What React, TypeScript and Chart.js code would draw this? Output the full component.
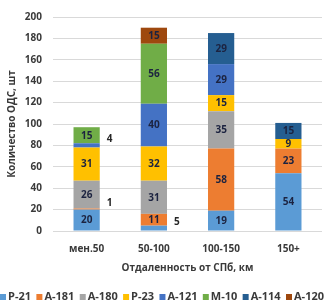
import React, { useEffect, useRef } from 'react';
import { Chart, registerables } from 'chart.js';
Chart.register(...registerables);

const categories = ['мен.50', '50-100', '100-150', '150+'];
const seriesNames = ['Р-21', 'А-181', 'А-180', 'Р-23', 'А-121', 'М-10', 'А-114', 'А-120'];
const r21 = [20, 5, 19, 54];
const a181 = [1, 11, 58, 23];
const a180 = [26, 31, 35, 0];
const r23 = [31, 32, 15, 9];
const a121 = [4, 40, 29, 0];
const m10 = [15, 56, 0, 0];
const a114 = [0, 0, 29, 15];
const a120 = [0, 15, 0, 0];
const seriesValues = [r21, a181, a180, r23, a121, m10, a114, a120];
const seriesColors = ['#5B9BD5', '#ED7D31', '#A5A5A5', '#FFC000', '#4472C4', '#70AD47', '#255E91', '#9E480E'];
const yMin = 0;
const yMax = 200;
const yStep = 20;
const yTitle = 'Количество ОДС, шт';
const xTitle = 'Отдаленность от СПб, км';

const FONT = '"Open Sans", sans-serif';
const TEXT = '#3a3a3a';

const labelPlugin = {
  id: 'segLabels',
  afterDatasetsDraw(chart: any) {
    const ctx = chart.ctx;
    ctx.save();
    ctx.font = `bold 10px ${FONT}`;
    chart.data.datasets.forEach((ds: any, di: number) => {
      const meta = chart.getDatasetMeta(di);
      meta.data.forEach((bar: any, i: number) => {
        const v = ds.data[i];
        if (!v) return;
        const p = bar.getProps(['x', 'y', 'base', 'width'], true);
        const cy = (p.y + p.base) / 2;
        if (v >= 6) {
          ctx.fillStyle = '#1c2340';
          ctx.textAlign = 'center';
          ctx.textBaseline = 'middle';
          ctx.fillText(String(v), p.x, cy + 0.5);
        } else {
          ctx.fillStyle = '#262626';
          ctx.textAlign = 'left';
          ctx.textBaseline = 'middle';
          ctx.fillText(String(v), p.x + p.width / 2 + 7, cy - 6);
        }
      });
    });
    ctx.restore();
  },
};

const legendPlugin = {
  id: 'lineLegend',
  afterDraw(chart: any) {
    const ctx = chart.ctx;
    ctx.save();
    ctx.font = `bold 11px ${FONT}`;
    ctx.textBaseline = 'middle';
    ctx.textAlign = 'left';
    const dss = chart.data.datasets;
    const widths = dss.map((d: any) => ctx.measureText(d.label).width);
    let used = 0;
    for (let i = 0; i < dss.length - 1; i++) used += 8 + widths[i];
    const gap = (286 - used) / (dss.length - 1);
    let x = 0;
    const y = 297;
    dss.forEach((ds: any, i: number) => {
      ctx.fillStyle = ds.backgroundColor;
      ctx.fillRect(x, y - 3, 6, 6);
      ctx.fillStyle = TEXT;
      ctx.fillText(ds.label, x + 8, y);
      x += 8 + widths[i] + gap;
    });
    ctx.restore();
  },
};

export default function App() {
  const ref = useRef<HTMLCanvasElement>(null);
  useEffect(() => {
    const tickFont = { family: FONT, size: 10, weight: 'bold' as const };
    const chart = new Chart(ref.current!, {
      type: 'bar',
      data: {
        labels: categories,
        datasets: seriesNames.map((name, i) => ({
          label: name,
          data: seriesValues[i],
          backgroundColor: seriesColors[i],
          borderWidth: 0,
          barPercentage: 0.39,
          categoryPercentage: 1,
        })),
      },
      options: {
        responsive: false,
        animation: false,
        devicePixelRatio: 1,
        layout: { padding: { top: 17, right: 4, bottom: 26, left: 0 } },
        plugins: { legend: { display: false }, tooltip: { enabled: false } },
        scales: {
          x: {
            stacked: true,
            grid: { display: false, drawTicks: false },
            border: { display: false },
            ticks: { color: TEXT, font: tickFont, padding: 12 },
            title: { display: true, text: xTitle, color: TEXT, font: tickFont, padding: { top: 0, bottom: 3 } },
            afterFit: (s: any) => { s.height = 46; },
          },
          y: {
            stacked: true,
            min: yMin,
            max: yMax,
            ticks: { stepSize: yStep, color: TEXT, font: tickFont, padding: 11 },
            grid: { color: '#d9d9d9', drawTicks: false },
            border: { display: false },
            title: { display: true, text: yTitle, color: TEXT, font: tickFont, padding: { top: 6, bottom: 0 } },
            afterFit: (s: any) => { s.width = 53; },
          },
        },
      },
      plugins: [labelPlugin, legendPlugin],
    });
    return () => chart.destroy();
  }, []);
  return (
    <div style={{ position: 'fixed', left: 0, top: 0, width: 326, height: 303, background: '#fff' }}>
      <canvas ref={ref} width={326} height={303} style={{ display: 'block' }} />
    </div>
  );
}
